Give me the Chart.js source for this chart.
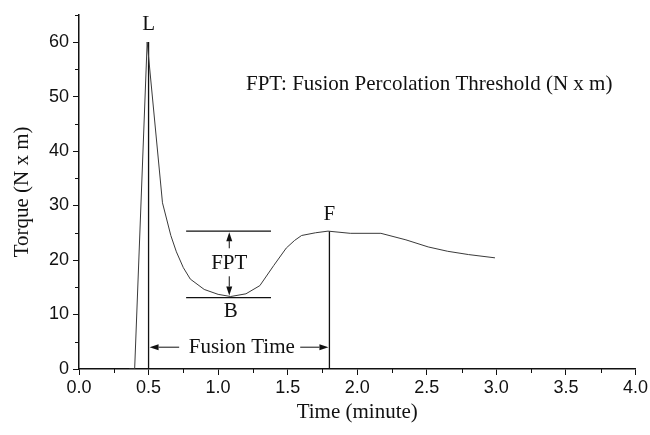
<!DOCTYPE html>
<html>
<head>
<meta charset="utf-8">
<script src="https://cdn.jsdelivr.net/npm/chart.js@4.4.0/dist/chart.umd.min.js"></script>
<style>
  html, body { margin: 0; padding: 0; background: #fff; }
  #caja { width: 650px; height: 435px; }
</style>
</head>
<body>
<div id="caja"><canvas id="grafico"></canvas></div>
<script>
// Curva de torque (tiempo en minutos, torque en N x m)
const tiempo = [0.36, 0.40, 0.49, 0.60, 0.66, 0.70, 0.75, 0.80, 0.90, 1.00, 1.09, 1.20, 1.30, 1.40, 1.49, 1.55, 1.60, 1.70, 1.79, 1.95, 2.17, 2.35, 2.51, 2.65, 2.80, 2.99];
const torque = [0, 0, 60, 30.5, 24.5, 21.5, 18.6, 16.5, 14.6, 13.7, 13.3, 13.8, 15.3, 19.0, 22.2, 23.6, 24.5, 25.0, 25.3, 24.9, 24.9, 23.7, 22.4, 21.6, 21.0, 20.4];

// Ejes
const ticksX = [0, 0.5, 1, 1.5, 2, 2.5, 3, 3.5, 4];
const ticksXMenores = [0.25, 0.75, 1.25, 1.75, 2.25, 2.75, 3.25, 3.75];
const ticksY = [0, 10, 20, 30, 40, 50, 60];
const ticksYMenores = [5, 15, 25, 35, 45, 55, 65];

// Puntos característicos L (carga), B (mínimo), F (fusión)
const puntoL = [0.5, 60];
const puntoB = [1.09, 13.3];
const puntoF = [1.8, 25.3];

// Líneas auxiliares del FPT
const fptDesde = 0.77;
const fptHasta = 1.38;
const fptArriba = 25.3;
const fptAbajo = 13.1;

// Flecha del tiempo de fusión
const alturaFusion = 4.0;

const negro = "#111";
const serif = "'Liberation Serif'";

function recta(x0, y0, x1, y1) {
  return {
    data: [{ x: x0, y: y0 }, { x: x1, y: y1 }],
    borderColor: negro,
    borderWidth: 1.3,
    pointRadius: 0,
    fill: false
  };
}

function flecha(ctx, xa, ya, xb, yb) {
  // línea de (xa,ya) a la punta (xb,yb), en pixeles
  const ang = Math.atan2(yb - ya, xb - xa);
  const largo = 9, ancho = 3;
  ctx.beginPath();
  ctx.moveTo(xa, ya);
  ctx.lineTo(xb - largo * Math.cos(ang), yb - largo * Math.sin(ang));
  ctx.strokeStyle = negro;
  ctx.lineWidth = 1;
  ctx.stroke();
  ctx.beginPath();
  ctx.moveTo(xb, yb);
  ctx.lineTo(xb - largo * Math.cos(ang) + ancho * Math.sin(ang), yb - largo * Math.sin(ang) - ancho * Math.cos(ang));
  ctx.lineTo(xb - largo * Math.cos(ang) - ancho * Math.sin(ang), yb - largo * Math.sin(ang) + ancho * Math.cos(ang));
  ctx.closePath();
  ctx.fillStyle = negro;
  ctx.fill();
}

const anotaciones = {
  id: "anotaciones",
  afterDraw(chart) {
    const ctx = chart.ctx;
    const sx = chart.scales.x, sy = chart.scales.y;
    const px = v => sx.getPixelForValue(v);
    const py = v => sy.getPixelForValue(v);
    ctx.save();

    // ticks menores
    ctx.strokeStyle = negro;
    ctx.lineWidth = 1;
    ctx.beginPath();
    ticksXMenores.forEach(v => {
      ctx.moveTo(Math.round(px(v)) + 0.5, sy.bottom);
      ctx.lineTo(Math.round(px(v)) + 0.5, sy.bottom + 4);
    });
    ticksYMenores.forEach(v => {
      ctx.moveTo(sx.left, Math.round(py(v)) + 0.5);
      ctx.lineTo(sx.left - 4, Math.round(py(v)) + 0.5);
    });
    ctx.stroke();

    // textos
    ctx.fillStyle = negro;
    ctx.font = "21px " + serif;
    ctx.textAlign = "center";
    ctx.textBaseline = "middle";
    ctx.fillText("L", px(puntoL[0]), py(puntoL[1]) - 18);
    ctx.fillText("F", px(puntoF[0]), py(puntoF[1]) - 17);
    ctx.fillText("B", px(puntoB[0]), py(puntoB[1]) + 15);
    const xFpt = puntoB[0] - 0.01;
    const yFptTexto = 19.4;
    ctx.fillText("FPT", px(xFpt), py(yFptTexto));
    const xTexto = (puntoL[0] + puntoF[0]) / 2 + 0.02;
    ctx.fillText("Fusion Time", px(xTexto), py(alturaFusion));
    ctx.textAlign = "left";
    ctx.fillText("FPT: Fusion Percolation Threshold (N x m)", px(1.2), py(52.3));

    // flechas FPT
    flecha(ctx, px(xFpt), py(yFptTexto) - 15, px(xFpt), py(fptArriba) + 1);
    flecha(ctx, px(xFpt), py(yFptTexto) + 13, px(xFpt), py(puntoB[1]) - 1);

    // flechas del tiempo de fusión
    flecha(ctx, px(0.72), py(alturaFusion), px(puntoL[0]) + 1, py(alturaFusion));
    flecha(ctx, px(1.59), py(alturaFusion), px(puntoF[0]) - 1, py(alturaFusion));

    ctx.restore();
  }
};

new Chart(document.getElementById("grafico"), {
  type: "line",
  data: {
    datasets: [
      {
        data: tiempo.map((t, i) => ({ x: t, y: torque[i] })),
        borderColor: "#3a3a3a",
        borderWidth: 1,
        pointRadius: 0,
        tension: 0,
        fill: false
      },
      recta(puntoL[0], 0, puntoL[0], puntoL[1]),
      recta(puntoF[0], 0, puntoF[0], puntoF[1]),
      recta(fptDesde, fptArriba, fptHasta, fptArriba),
      recta(fptDesde, fptAbajo, fptHasta, fptAbajo)
    ]
  },
  options: {
    responsive: true,
    maintainAspectRatio: false,
    animation: false,
    layout: { padding: { left: 8, right: 14, top: 9, bottom: 8 } },
    plugins: { legend: { display: false }, tooltip: { enabled: false } },
    scales: {
      x: {
        type: "linear",
        min: 0,
        max: 4,
        afterBuildTicks: s => { s.ticks = ticksX.map(v => ({ value: v })); },
        afterFit: s => { s.height = 58; },
        ticks: {
          callback: v => v.toFixed(1),
          color: negro,
          font: { family: "'Liberation Sans'", size: 18 },
          padding: 2,
          maxRotation: 0
        },
        grid: { drawOnChartArea: false, drawTicks: true, tickLength: 6, color: negro },
        border: { color: negro, width: 1.5 },
        title: {
          display: true,
          text: "Time (minute)",
          color: negro,
          font: { family: serif, size: 21 },
          padding: { top: 4, bottom: 2 }
        }
      },
      y: {
        min: 0,
        max: 65,
        afterBuildTicks: s => { s.ticks = ticksY.map(v => ({ value: v })); },
        afterFit: s => { s.width = 71; },
        ticks: {
          color: negro,
          font: { family: "'Liberation Sans'", size: 18 },
          padding: 4
        },
        grid: { drawOnChartArea: false, drawTicks: true, tickLength: 6, color: negro },
        border: { color: negro, width: 1.5 },
        title: {
          display: true,
          text: "Torque (N x m)",
          color: negro,
          font: { family: serif, size: 21 },
          padding: { top: 2, bottom: 4 }
        }
      }
    }
  },
  plugins: [anotaciones]
});
</script>
</body>
</html>
